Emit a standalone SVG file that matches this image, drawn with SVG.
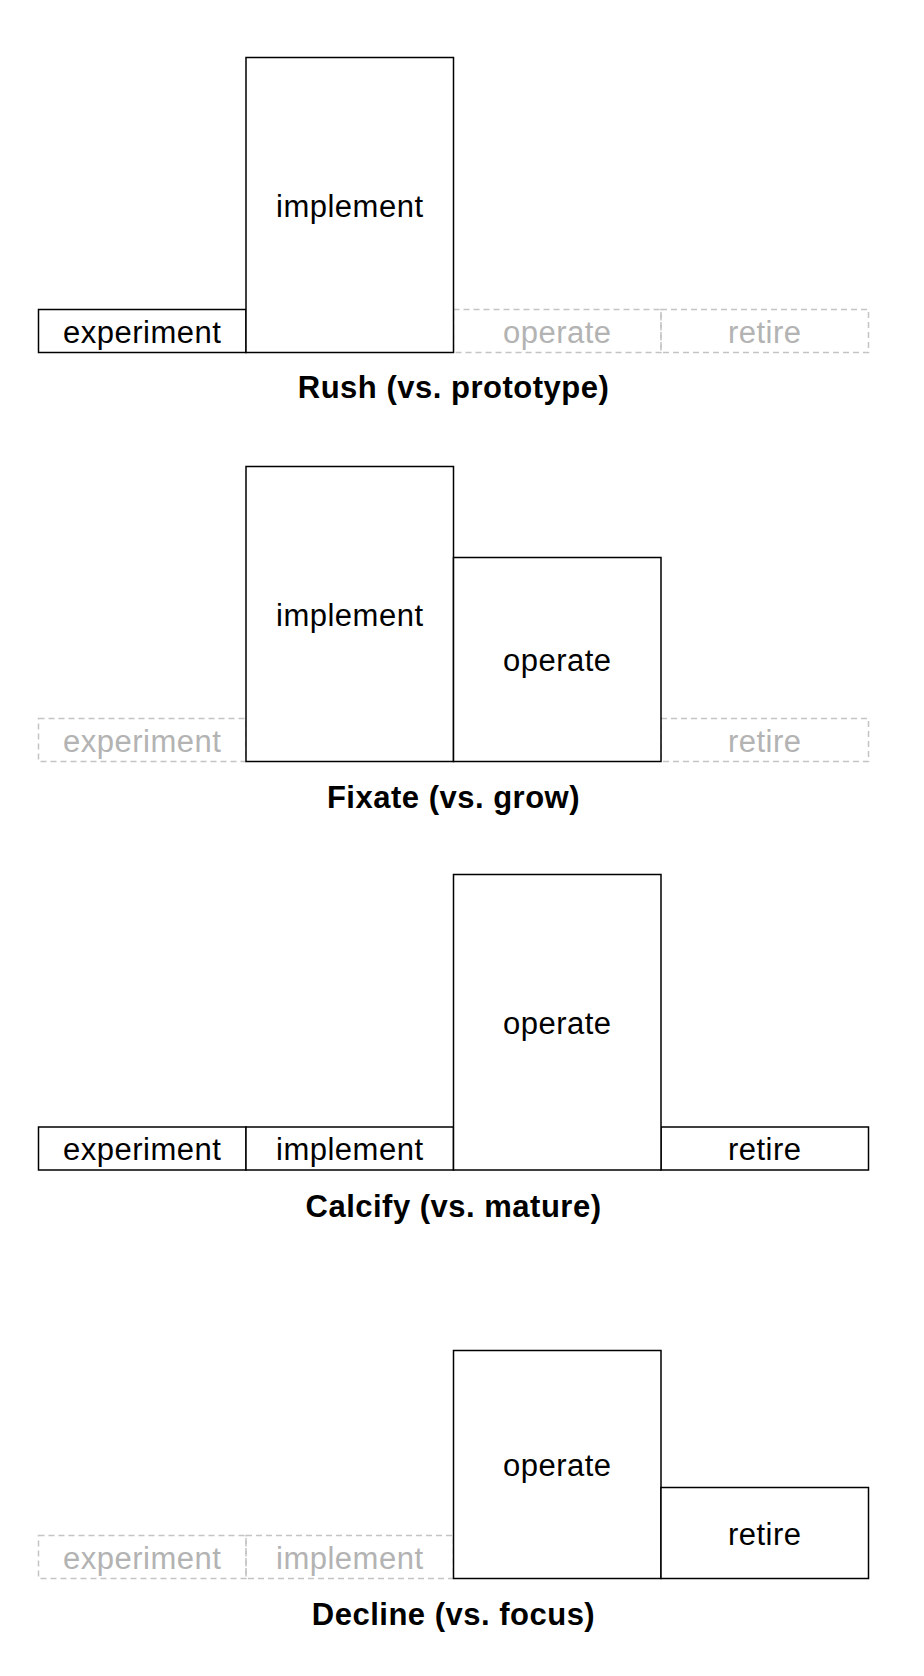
<svg xmlns="http://www.w3.org/2000/svg" width="924" height="1676" viewBox="0 0 924 1676">
  <style>
    .box { fill: #ffffff; stroke: #000000; stroke-width: 1.5; }
    .ghost { fill: none; stroke: #c4c4c4; stroke-width: 1.5; stroke-dasharray: 6 4; }
    .lbl { font-family: "Liberation Sans", Arial, sans-serif; font-size: 31px; letter-spacing: 0.5px; text-anchor: middle; fill: #000000; }
    .lbl.off { fill: #b3b3b3; }
    .title { font-family: "Liberation Sans", Arial, sans-serif; font-size: 31px; font-weight: bold; letter-spacing: 0.5px; text-anchor: middle; fill: #000000; }
  </style>
  <rect x="0" y="0" width="924" height="1676" fill="#ffffff"/>

  <!-- Rush (vs. prototype) -->
  <g id="rush">
    <g id="rush-operate">
      <rect class="ghost" x="453.5" y="309.5" width="207.5" height="43"/>
      <text class="lbl off" x="557.25" y="342.5">operate</text>
    </g>
    <g id="rush-retire">
      <rect class="ghost" x="661" y="309.5" width="207.5" height="43"/>
      <text class="lbl off" x="764.75" y="342.5">retire</text>
    </g>
    <g id="rush-experiment">
      <rect class="box" x="38.5" y="309.5" width="207.5" height="43"/>
      <text class="lbl" x="142.25" y="342.5">experiment</text>
    </g>
    <g id="rush-implement">
      <rect class="box" x="246" y="57.5" width="207.5" height="295"/>
      <text class="lbl" x="349.75" y="216.5">implement</text>
    </g>
    <text class="title" x="453.5" y="397.5">Rush (vs. prototype)</text>
  </g>

  <!-- Fixate (vs. grow) -->
  <g id="fixate">
    <g id="fixate-experiment">
      <rect class="ghost" x="38.5" y="718.5" width="207.5" height="43"/>
      <text class="lbl off" x="142.25" y="751.5">experiment</text>
    </g>
    <g id="fixate-retire">
      <rect class="ghost" x="661" y="718.5" width="207.5" height="43"/>
      <text class="lbl off" x="764.75" y="751.5">retire</text>
    </g>
    <g id="fixate-implement">
      <rect class="box" x="246" y="466.5" width="207.5" height="295"/>
      <text class="lbl" x="349.75" y="625.5">implement</text>
    </g>
    <g id="fixate-operate">
      <rect class="box" x="453.5" y="557.5" width="207.5" height="204"/>
      <text class="lbl" x="557.25" y="671">operate</text>
    </g>
    <text class="title" x="453.5" y="808">Fixate (vs. grow)</text>
  </g>

  <!-- Calcify (vs. mature) -->
  <g id="calcify">
    <g id="calcify-experiment">
      <rect class="box" x="38.5" y="1127" width="207.5" height="43"/>
      <text class="lbl" x="142.25" y="1160">experiment</text>
    </g>
    <g id="calcify-implement">
      <rect class="box" x="246" y="1127" width="207.5" height="43"/>
      <text class="lbl" x="349.75" y="1160">implement</text>
    </g>
    <g id="calcify-retire">
      <rect class="box" x="661" y="1127" width="207.5" height="43"/>
      <text class="lbl" x="764.75" y="1160">retire</text>
    </g>
    <g id="calcify-operate">
      <rect class="box" x="453.5" y="874.5" width="207.5" height="295.5"/>
      <text class="lbl" x="557.25" y="1033.5">operate</text>
    </g>
    <text class="title" x="453.5" y="1216.5">Calcify (vs. mature)</text>
  </g>

  <!-- Decline (vs. focus) -->
  <g id="decline">
    <g id="decline-experiment">
      <rect class="ghost" x="38.5" y="1535.5" width="207.5" height="43"/>
      <text class="lbl off" x="142.25" y="1568.5">experiment</text>
    </g>
    <g id="decline-implement">
      <rect class="ghost" x="246" y="1535.5" width="207.5" height="43"/>
      <text class="lbl off" x="349.75" y="1568.5">implement</text>
    </g>
    <g id="decline-operate">
      <rect class="box" x="453.5" y="1350.5" width="207.5" height="228"/>
      <text class="lbl" x="557.25" y="1476">operate</text>
    </g>
    <g id="decline-retire">
      <rect class="box" x="661" y="1487.5" width="207.5" height="91"/>
      <text class="lbl" x="764.75" y="1544.5">retire</text>
    </g>
    <text class="title" x="453.5" y="1625">Decline (vs. focus)</text>
  </g>
</svg>
